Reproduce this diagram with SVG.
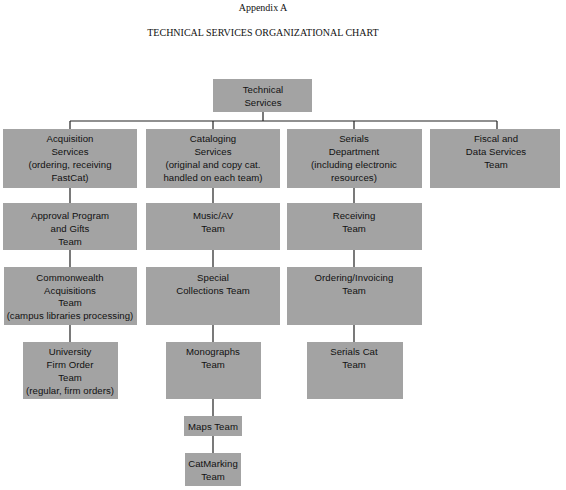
<svg xmlns="http://www.w3.org/2000/svg" width="566" height="490" viewBox="0 0 566 490">
<style>
.t{font-family:"Liberation Serif","Times New Roman",serif;font-size:10px;fill:#111;text-anchor:middle}
.b{fill:#a3a3a3}
.l{font-family:"Liberation Sans",Arial,sans-serif;font-size:9.6px;letter-spacing:0.05px;fill:#111;text-anchor:middle}
.c{stroke:#222;stroke-width:1.2;fill:none}
</style>
<rect width="566" height="490" fill="#fff"/>
<text class="t" x="263" y="11">Appendix A</text>
<text class="t" x="263" y="36">TECHNICAL SERVICES ORGANIZATIONAL CHART</text>
<g id="connectors">
<path class="c" d="M263 112V121M70 121H497M70 121V129M213 121V129M354 121V129M497 121V129"/>
<path class="c" d="M70 188V203M70 250V267M70 325V342"/>
<path class="c" d="M213 188V203M213 250V267M213 325V342M213 399V416M213 436V453"/>
<path class="c" d="M354 188V203M354 250V267M354 325V342"/>
</g>
<g id="technical-services"><rect class="b" x="213" y="79" width="99" height="33"/><text class="l" x="263" y="93">Technical</text><text class="l" x="263" y="106">Services</text></g>
<g id="acquisition"><rect class="b" x="3" y="129" width="134" height="59"/><text class="l" x="70" y="142">Acquisition</text><text class="l" x="70" y="155">Services</text><text class="l" x="70" y="168">(ordering, receiving</text><text class="l" x="70" y="181">FastCat)</text></g>
<g id="cataloging"><rect class="b" x="146" y="129" width="134" height="59"/><text class="l" x="213" y="142">Cataloging</text><text class="l" x="213" y="155">Services</text><text class="l" x="213" y="168">(original and copy cat.</text><text class="l" x="213" y="181">handled on each team)</text></g>
<g id="serials"><rect class="b" x="287" y="129" width="135" height="59"/><text class="l" x="354" y="142">Serials</text><text class="l" x="354" y="155">Department</text><text class="l" x="354" y="168">(including electronic</text><text class="l" x="354" y="181">resources)</text></g>
<g id="fiscal"><rect class="b" x="430" y="129" width="130" height="59"/><text class="l" x="496" y="142">Fiscal and</text><text class="l" x="496" y="155">Data Services</text><text class="l" x="496" y="168">Team</text></g>
<g id="approval"><rect class="b" x="3" y="203" width="134" height="47"/><text class="l" x="70" y="219">Approval Program</text><text class="l" x="70" y="232">and Gifts</text><text class="l" x="70" y="245">Team</text></g>
<g id="music"><rect class="b" x="146" y="203" width="134" height="47"/><text class="l" x="213" y="219">Music/AV</text><text class="l" x="213" y="232">Team</text></g>
<g id="receiving"><rect class="b" x="287" y="203" width="135" height="47"/><text class="l" x="354" y="219">Receiving</text><text class="l" x="354" y="232">Team</text></g>
<g id="commonwealth"><rect class="b" x="4" y="267" width="133" height="58"/><text class="l" x="70" y="281">Commonwealth</text><text class="l" x="70" y="294">Acquisitions</text><text class="l" x="70" y="306">Team</text><text class="l" x="70" y="319">(campus libraries processing)</text></g>
<g id="special"><rect class="b" x="146" y="267" width="134" height="58"/><text class="l" x="213" y="281">Special</text><text class="l" x="213" y="294">Collections Team</text></g>
<g id="ordering"><rect class="b" x="287" y="267" width="135" height="58"/><text class="l" x="354" y="281">Ordering/Invoicing</text><text class="l" x="354" y="294">Team</text></g>
<g id="university"><rect class="b" x="23" y="342" width="95" height="57"/><text class="l" x="70" y="355">University</text><text class="l" x="70" y="368">Firm Order</text><text class="l" x="70" y="381">Team</text><text class="l" x="70" y="394">(regular, firm orders)</text></g>
<g id="monographs"><rect class="b" x="166" y="342" width="95" height="57"/><text class="l" x="213" y="355">Monographs</text><text class="l" x="213" y="368">Team</text></g>
<g id="serials-cat"><rect class="b" x="307" y="342" width="96" height="57"/><text class="l" x="354" y="355">Serials Cat</text><text class="l" x="354" y="368">Team</text></g>
<g id="maps"><rect class="b" x="184" y="416" width="58" height="20"/><text class="l" x="213" y="430">Maps Team</text></g>
<g id="catmarking"><rect class="b" x="185" y="453" width="56" height="33"/><text class="l" x="213" y="467">CatMarking</text><text class="l" x="213" y="480">Team</text></g>
</svg>
